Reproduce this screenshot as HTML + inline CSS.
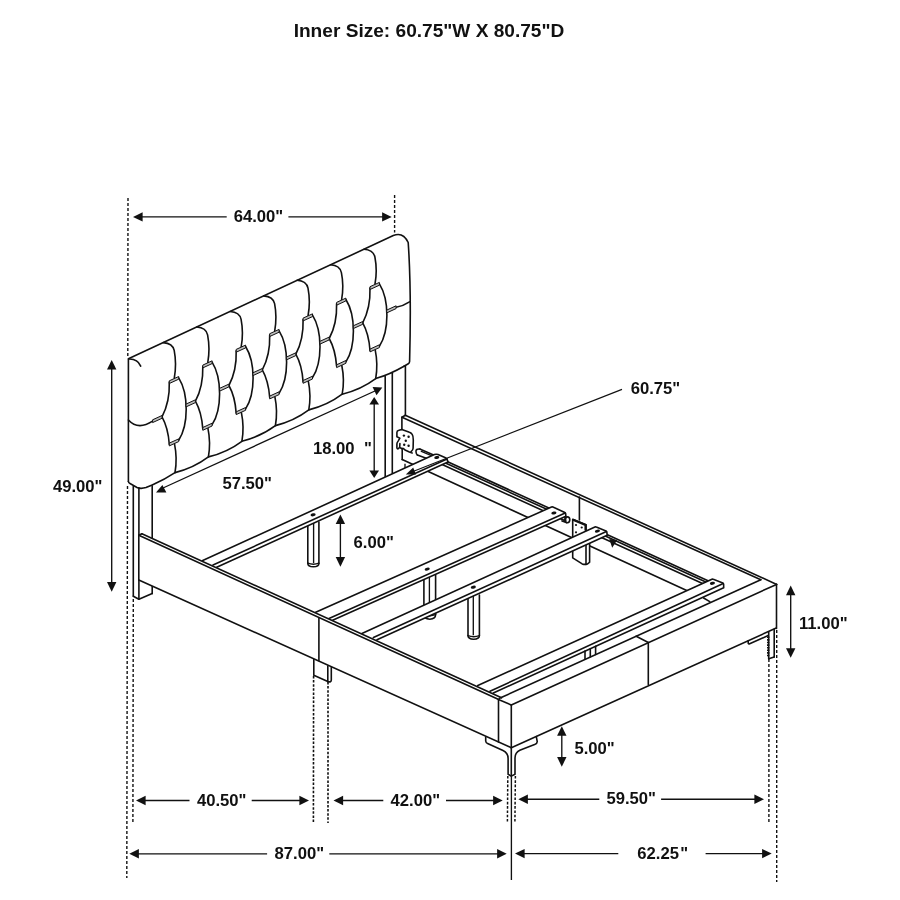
<!DOCTYPE html>
<html><head><meta charset="utf-8"><title>Bed dimensions</title>
<style>
html,body{margin:0;padding:0;background:#fff;}
svg{display:block;}
text{font-family:"Liberation Sans",sans-serif;font-weight:bold;fill:#111;}
svg{filter:grayscale(1);}
.l{stroke:#111;stroke-width:1.6;fill:none;stroke-linecap:round;stroke-linejoin:round;}
.t{stroke:#111;stroke-width:1.35;fill:none;}
.th{stroke:#111;stroke-width:1.15;fill:none;}
.d{stroke:#111;stroke-width:1.4;fill:none;stroke-dasharray:3 2;}
.a{fill:#111;stroke:none;}
.g{stroke:#111;stroke-width:1;fill:#bbb;stroke-linejoin:round;}
</style></head><body>
<svg width="900" height="900" viewBox="0 0 900 900">
<rect width="900" height="900" fill="#fff"/>
<text x="429" y="37" font-size="19.1" text-anchor="middle">Inner Size: 60.75"W X 80.75"D</text>
<g id="dims">
<path class="d" d="M128 198L127.8 357" style="stroke-dasharray:3 2"/>
<path class="d" d="M127.5 486L126.8 878" style="stroke-dasharray:3 2"/>
<path class="d" d="M394.6 195V232.5"/>
<path class="d" d="M133.3 599L132.9 823" style="stroke-dasharray:3 2"/>
<path class="d" d="M313.6 676L313.4 823" style="stroke-dasharray:2.5 1.6;stroke-width:1.6"/>
<path class="d" d="M328 682L328 823" style="stroke-dasharray:2.5 1.6;stroke-width:1.6"/>
<path class="d" d="M507.8 776L507.4 823" style="stroke-dasharray:2.6 1.7;stroke-width:1.5"/>
<path class="d" d="M515.4 776L514.9 823" style="stroke-dasharray:2.6 1.7;stroke-width:1.5"/>
<path class="d" d="M768.9 659V823"/>
<path class="d" d="M776.7 630V882"/>
<path class="t" d="M511.4 775L511.4 880"/>
<path class="a" d="M133 216.9L142.6 212.2L142.6 221.6Z"/>
<path class="a" d="M391.7 216.9L382.1 221.6L382.1 212.2Z"/>
<path class="t" d="M140 216.9L226.7 216.9"/>
<path class="t" d="M288.4 216.9L384 216.9"/>
<text x="233.7" y="221.8" font-size="16.65" text-anchor="start">64.00"</text>
<path class="a" d="M111.7 360L116.4 369.6L107 369.6Z"/>
<path class="a" d="M111.7 591.7L107 582.1L116.4 582.1Z"/>
<path class="t" d="M111.7 368L111.7 584"/>
<text x="52.9" y="492.1" font-size="16.65" text-anchor="start">49.00"</text>
<path class="a" d="M136 800.5L145.6 795.8L145.6 805.2Z"/>
<path class="a" d="M309 800.5L299.4 805.2L299.4 795.8Z"/>
<path class="t" d="M144 800.5L189.5 800.5"/>
<path class="t" d="M251.7 800.5L301 800.5"/>
<text x="196.9" y="805.8" font-size="16.65" text-anchor="start">40.50"</text>
<path class="a" d="M333.5 800.5L343.1 795.8L343.1 805.2Z"/>
<path class="a" d="M502.7 800.5L493.1 805.2L493.1 795.8Z"/>
<path class="t" d="M341 800.5L383.3 800.5"/>
<path class="t" d="M446 800.5L495 800.5"/>
<text x="390.6" y="805.8" font-size="16.65" text-anchor="start">42.00"</text>
<path class="a" d="M518.3 799.2L527.9 794.5L527.9 803.9Z"/>
<path class="a" d="M764 799.2L754.4 803.9L754.4 794.5Z"/>
<path class="t" d="M526 799.2L599.3 799.2"/>
<path class="t" d="M661.1 799.2L756 799.2"/>
<text x="606.4" y="804.2" font-size="16.65" text-anchor="start">59.50"</text>
<path class="a" d="M129.3 853.8L138.9 849.1L138.9 858.5Z"/>
<path class="a" d="M506.7 853.8L497.1 858.5L497.1 849.1Z"/>
<path class="t" d="M137 853.8L267.1 853.8"/>
<path class="t" d="M329.3 853.8L499 853.8"/>
<text x="274.6" y="859" font-size="16.65" text-anchor="start">87.00"</text>
<path class="a" d="M515 853.6L524.6 848.9L524.6 858.3Z"/>
<path class="a" d="M771.7 853.6L762.1 858.3L762.1 848.9Z"/>
<path class="t" d="M523 853.6L618.3 853.6"/>
<path class="t" d="M705.6 853.6L764 853.6"/>
<text x="637.3" y="859.4" font-size="16.65" text-anchor="start">62.25<tspan dx="1.3">"</tspan></text>
<path class="a" d="M790.7 585.6L795.4 595.2L786 595.2Z"/>
<path class="a" d="M790.7 657.8L786 648.2L795.4 648.2Z"/>
<path class="t" d="M790.7 593L790.7 650"/>
<text x="799" y="628.7" font-size="16.65" text-anchor="start">11.00"</text>
<path class="a" d="M561.8 726.2L566.5 735.8L557.1 735.8Z"/>
<path class="a" d="M561.8 766.7L557.1 757.1L566.5 757.1Z"/>
<path class="t" d="M561.8 734L561.8 759"/>
<text x="574.4" y="753.6" font-size="16.65" text-anchor="start">5.00"</text>
<path class="a" d="M340.4 514.4L345.1 524L335.7 524Z"/>
<path class="a" d="M340.4 566.7L335.7 557.1L345.1 557.1Z"/>
<path class="t" d="M340.4 522L340.4 559"/>
<text x="353.5" y="547.9" font-size="16.65" text-anchor="start">6.00"</text>
<path class="a" d="M374.2 397L379 404.5L369.4 404.5Z"/>
<path class="a" d="M374.2 478L369.4 470.5L379 470.5Z"/>
<path class="t" d="M374.2 403L374.2 472"/>
<text x="312.9" y="454" font-size="16.65" text-anchor="start">18.00</text>
<text x="364.1" y="454" font-size="16.65" text-anchor="start">"</text>
<text x="222.4" y="488.6" font-size="16.65" text-anchor="start">57.50"</text>
<path class="t" d="M163 488L376 390.5"/>
<path class="a" d="M156 492.6L162.4 485L166.4 492.6Z"/>
<path class="a" d="M372.6 387.1L382.3 387.5L376.5 395.2Z"/>
<text x="630.7" y="394.2" font-size="16.65" text-anchor="start">60.75"</text>
</g>
<g id="headboard">
<path class="l" d="M128.4 481.5 L128.4 358.8 L393.3 235.6 Q403 231.5 408.2 242.5 Q411.5 290 409.6 361.5 Q409.5 363 408.3 363.7 L404 366.3"/>
<path class="l" d="M128.4 481.5 Q128.5 482.7 130 483.5 L137 487.5 Q140.5 489.2 146 487.6 L152.2 485 Q165 479.3 175 472.6 Q193.7 468 208.4 456.9 Q227.2 452.3 241.9 441.3 Q260.6 436.6 275.4 425.6 Q294.1 421 308.8 409.9 Q327.5 405.3 342.2 394.2 Q361 389.6 375.7 378.6 Q389.7 374.6 404 366.3"/>
<path class="l" d="M128.6 359.1 Q137.5 358.6 140.7 366.1"/>
<path class="l" d="M163.3 342.6 C167.3 342.9 173 344.9 174.2 350.4 Q176.8 364.1 174.3 378"/>
<path class="l" d="M178.7 377.9 C188.7 393.9 188.7 424.9 178.7 440.2"/>
<path class="l" d="M169.3 382.1 Q169.9 402.1 162 416.9"/>
<path class="l" d="M162 416.9 Q168.2 427.9 169.3 444.5"/>
<path class="l" d="M174.5 443.9 Q177.5 458.4 175 472.6"/>
<path class="l" d="M196.8 327 C200.8 327.3 206.4 329.3 207.6 334.8 Q210.2 348.5 207.8 362.3"/>
<path class="l" d="M212.1 362.2 C222.1 378.2 222.1 409.2 212.1 424.6"/>
<path class="l" d="M202.8 366.5 Q203.3 386.5 195.4 401.2"/>
<path class="l" d="M195.4 401.2 Q201.6 412.2 202.8 428.9"/>
<path class="l" d="M207.9 428.2 Q210.9 442.7 208.4 456.9"/>
<path class="l" d="M230.2 311.5 C234.2 311.8 239.9 313.8 241.1 319.3 Q243.7 332.9 241.2 346.7"/>
<path class="l" d="M245.6 346.5 C255.6 362.5 255.6 393.5 245.6 408.9"/>
<path class="l" d="M236.2 350.8 Q236.8 370.8 228.9 385.5"/>
<path class="l" d="M228.9 385.5 Q235.1 396.5 236.2 413.2"/>
<path class="l" d="M241.4 412.6 Q244.4 427.1 241.9 441.3"/>
<path class="l" d="M263.7 295.9 C267.7 296.2 273.4 298.2 274.6 303.7 Q277.2 317.2 274.7 331"/>
<path class="l" d="M279.1 330.8 C289.1 346.8 289.1 377.8 279.1 393.2"/>
<path class="l" d="M269.7 335.1 Q270.3 355.1 262.3 369.9"/>
<path class="l" d="M262.3 369.9 Q268.5 380.9 269.7 397.5"/>
<path class="l" d="M274.9 396.9 Q277.9 411.4 275.4 425.6"/>
<path class="l" d="M297.1 280.3 C301.1 280.6 306.8 282.6 308 288.1 Q310.6 301.6 308.1 315.3"/>
<path class="l" d="M312.5 315.2 C322.5 331.2 322.5 362.2 312.5 377.6"/>
<path class="l" d="M303.1 319.5 Q303.7 339.5 295.8 354.2"/>
<path class="l" d="M295.8 354.2 Q302 365.2 303.1 381.9"/>
<path class="l" d="M308.3 381.2 Q311.3 395.7 308.8 409.9"/>
<path class="l" d="M330.6 264.8 C334.6 265.1 340.2 267.1 341.4 272.6 Q344.1 286 341.6 299.6"/>
<path class="l" d="M345.9 299.5 C355.9 315.5 355.9 346.5 345.9 361.9"/>
<path class="l" d="M336.6 303.8 Q337.2 323.8 329.2 338.5"/>
<path class="l" d="M329.2 338.5 Q335.4 349.5 336.6 366.2"/>
<path class="l" d="M341.8 365.5 Q344.8 380 342.2 394.2"/>
<path class="l" d="M364 249.2 C368 249.5 373.7 251.5 374.9 257 Q377.5 270.4 375 284"/>
<path class="l" d="M379.4 283.8 C389.4 299.8 389.4 330.8 379.4 346.2"/>
<path class="l" d="M370 288.1 Q370.6 308.1 362.7 322.9"/>
<path class="l" d="M362.7 322.9 Q368.9 333.9 370 350.5"/>
<path class="l" d="M375.2 349.9 Q378.2 364.4 375.7 378.6"/>
<path class="l" d="M128.4 420 Q138 430.5 152.6 421.2"/>
<path class="l" d="M396.1 307.2 Q403.1 306 409.5 301.8"/>
<path class="g" d="M169.3 380.8L178.7 376.5L178.7 379.2L169.3 383.5Z"/>
<path class="g" d="M169.3 443.1L178.7 438.9L178.7 441.6L169.3 445.9Z"/>
<path class="g" d="M202.8 365.1L212.1 360.8L212.1 363.6L202.8 367.9Z"/>
<path class="g" d="M202.8 427.5L212.1 423.2L212.1 426L202.8 430.3Z"/>
<path class="g" d="M236.2 349.4L245.6 345.1L245.6 347.9L236.2 352.2Z"/>
<path class="g" d="M236.2 411.8L245.6 407.5L245.6 410.3L236.2 414.6Z"/>
<path class="g" d="M269.7 333.7L279.1 329.4L279.1 332.2L269.7 336.5Z"/>
<path class="g" d="M269.7 396.1L279.1 391.8L279.1 394.6L269.7 398.9Z"/>
<path class="g" d="M303.1 318.1L312.5 313.8L312.5 316.6L303.1 320.9Z"/>
<path class="g" d="M303.1 380.5L312.5 376.2L312.5 379L303.1 383.3Z"/>
<path class="g" d="M336.6 302.4L345.9 298.1L345.9 300.9L336.6 305.2Z"/>
<path class="g" d="M336.6 364.8L345.9 360.5L345.9 363.3L336.6 367.6Z"/>
<path class="g" d="M370 286.7L379.4 282.4L379.4 285.2L370 289.5Z"/>
<path class="g" d="M370 349.1L379.4 344.8L379.4 347.6L370 351.9Z"/>
<path class="g" d="M152.6 419.8L162 415.5L162 418.3L152.6 422.6Z"/>
<path class="g" d="M186 404.1L195.4 399.8L195.4 402.6L186 406.9Z"/>
<path class="g" d="M219.5 388.4L228.9 384.1L228.9 386.9L219.5 391.2Z"/>
<path class="g" d="M252.9 372.8L262.3 368.5L262.3 371.3L252.9 375.6Z"/>
<path class="g" d="M286.4 357.1L295.8 352.8L295.8 355.6L286.4 359.9Z"/>
<path class="g" d="M319.8 341.4L329.2 337.1L329.2 339.9L319.8 344.2Z"/>
<path class="g" d="M353.3 325.8L362.7 321.5L362.7 324.3L353.3 328.6Z"/>
<path class="g" d="M386.7 310.1L396.1 305.8L396.1 308.6L386.7 312.9Z"/>
<path class="l" d="M133.3 486.5L133.3 596.2"/>
<path class="l" d="M138.9 487.8L138.9 599.3"/>
<path class="l" d="M152.2 485.8L152.2 538"/>
<path class="l" d="M152.2 586.5L152.2 593.6"/>
<path class="l" d="M133.3 596.2L138.9 599.3L152.2 593.6"/>
<path class="l" d="M385.2 376.3L385.2 476.7"/>
<path class="l" d="M392.3 373.3L392.3 473.3"/>
<path class="l" d="M405.4 365.8L405.4 415.5"/>
</g>
<g id="bed">
<path class="l" d="M405.3 415.3L776.7 584.4"/>
<path class="l" d="M402 417.3L760.8 579.7"/>
<path class="l" d="M402 417.3L405.3 415.3"/>
<path class="l" d="M401.9 417.3L401.9 429.4"/>
<path class="l" d="M402.2 449.2L402.2 459.6"/>
<path class="l" d="M579.4 497L579.4 520"/>
<path class="l" d="M402.2 459.6L690 592"/>
<path class="t" d="M405 463.7L405 468.2"/>
<path class="l" d="M401.9 429.4 L398.9 430.3 Q396.9 430.8 396.9 432.6 L396.9 436.7 L399.9 438.1 L398.1 441.1 Q396.9 442.8 396.9 444 L396.9 447.8 Q397 449 398.2 448.8 L399.7 447.3 L399.9 443.6 M399.7 447.3 L401.2 448.3 L403.5 448.6 L405 450 L409.4 451.9 L412.2 453 M411.1 451.7 Q413 450 413.1 448.3 L413.3 440 Q413.3 436 412.2 434.4 Q411 432.6 409.4 432.2 L401.9 429.4"/>
<ellipse class="a" cx="403.9" cy="435.6" rx="1.2" ry="1.2" transform="rotate(0 403.9 435.6)"/>
<ellipse class="a" cx="408.6" cy="436.7" rx="1.2" ry="1.2" transform="rotate(0 408.6 436.7)"/>
<ellipse class="a" cx="405.8" cy="440.8" rx="1.2" ry="1.2" transform="rotate(0 405.8 440.8)"/>
<ellipse class="a" cx="404.2" cy="444.7" rx="1.2" ry="1.2" transform="rotate(0 404.2 444.7)"/>
<ellipse class="a" cx="408.6" cy="445.8" rx="1.2" ry="1.2" transform="rotate(0 408.6 445.8)"/>
<path class="l" d="M440 458.3L564 514.9"/>
<path class="l" d="M596 529.6L708 580.7"/>
<path class="l" d="M440 460.5L564 517.1"/>
<path class="l" d="M596 531.8L708 582.9"/>
<path class="l" d="M440 463.6L564 520.2"/>
<path class="l" d="M596 534.9L708 586"/>
<path class="l" d="M419.8 449L437 456.6"/>
<path class="t" d="M420.8 451.2L432 455.9"/>
<path class="l" d="M417.4 455.1L431 460"/>
<path class="l" d="M419.8 449 Q415.6 448.6 416 451.8 Q416.2 454.4 417.4 455.1"/>
<path class="l" d="M562 520.9L566.5 522.6"/>
<ellipse class="l" cx="567.3" cy="519.8" rx="2.5" ry="2.9" style="fill:#fff"/>
<path class="t" d="M566.2 518 Q565 519.8 566.2 521.6"/>
<path class="l" d="M572.7 537.5L572.7 519.3L586 524.7L586 531" style="fill:#fff"/>
<path d="M573 519.8L585.6 525V530.5" stroke="#111" stroke-width="2.3" fill="none" stroke-linejoin="miter"/>
<ellipse class="a" cx="576" cy="525" rx="1.1" ry="1.1" transform="rotate(0 576 525)"/>
<ellipse class="a" cx="581.7" cy="527.5" rx="1.1" ry="1.1" transform="rotate(0 581.7 527.5)"/>
<ellipse class="a" cx="576" cy="532.3" rx="1.1" ry="1.1" transform="rotate(0 576 532.3)"/>
<path class="l" d="M572.7 545 L572.7 557.8 L582.2 563.9 Q586.7 565.5 589.6 562.2 L589.6 540" style="fill:#fff"/>
<path class="l" d="M586 542L586 564.6"/>
<path d="M307.8 522L318.9 522L318.9 563.2L307.8 563.2Z" fill="#fff" stroke="none"/>
<path class="l" d="M307.8 522L307.8 563.2"/>
<path class="t" d="M313.6 522L313.6 563.2"/>
<path class="l" d="M318.9 522L318.9 563.2"/>
<path class="l" d="M307.8 563.2 Q307.8 566.8 313.4 566.8 Q318.9 566.8 318.9 563.2" style="fill:#fff"/>
<path class="t" d="M307.8 563.2 Q313.4 565.4 318.9 563.2"/>
<path d="M202.7 560.6L436.2 453.8L447.3 458.6L448 461.9L216.7 567.3Z" fill="#fff" stroke="none"/>
<path class="l" d="M202.7 560.6 L434.4 454.6 Q436.2 453.8 438 454.6 L445.5 457.8 Q447.3 458.6 447.4 460.4 L448 461.9 L216.7 567.3"/>
<path class="l" d="M213 565.1L447 458.9"/>
<ellipse class="a" cx="436.8" cy="457.5" rx="2.6" ry="1.5" transform="rotate(-12 436.8 457.5)"/>
<ellipse class="a" cx="313.1" cy="514.8" rx="2.6" ry="1.5" transform="rotate(-12 313.1 514.8)"/>
<path d="M423.9 575L435.6 575L435.6 614.6L423.9 614.6Z" fill="#fff" stroke="none"/>
<path class="l" d="M423.9 575L423.9 614.6"/>
<path class="t" d="M429.4 575L429.4 614.6"/>
<path class="l" d="M435.6 575L435.6 614.6"/>
<path class="l" d="M423.9 614.6 Q423.9 619.2 429.8 619.2 Q435.6 619.2 435.6 614.6" style="fill:#fff"/>
<path class="t" d="M423.9 614.6 Q429.8 616.8 435.6 614.6"/>
<path d="M315.7 612.2L552.2 506.7L565.5 512.7L565.9 516.2L332.6 620.2Z" fill="#fff" stroke="none"/>
<path class="l" d="M315.7 612.2 L551.5 507 Q552.2 506.7 552.9 507 L564.8 512.4 Q565.5 512.7 565.6 513.4 L565.9 516.2 L332.6 620.2"/>
<path class="l" d="M329 618.4L565.2 513"/>
<ellipse class="a" cx="553.9" cy="513" rx="2.6" ry="1.5" transform="rotate(-12 553.9 513)"/>
<ellipse class="a" cx="427.2" cy="569.1" rx="2.6" ry="1.5" transform="rotate(-12 427.2 569.1)"/>
<path d="M468 595L479.4 595L479.4 635.6L468 635.6Z" fill="#fff" stroke="none"/>
<path class="l" d="M468 595L468 635.6"/>
<path class="t" d="M473.3 595L473.3 635.6"/>
<path class="l" d="M479.4 595L479.4 635.6"/>
<path class="l" d="M468 635.6 Q468 639.2 473.7 639.2 Q479.4 639.2 479.4 635.6" style="fill:#fff"/>
<path class="t" d="M468 635.6 Q473.7 637.8 479.4 635.6"/>
<path d="M361.9 633.6L595.6 526.7L606.7 531.2L607.2 535.2L377 639.8Z" fill="#fff" stroke="none"/>
<path class="l" d="M361.9 633.6 L594.9 527 Q595.6 526.7 596.3 527 L606 530.9 Q606.7 531.2 606.8 531.9 L607.2 535.2 L377 639.8"/>
<path class="l" d="M373.4 637.6L606.4 531.5"/>
<ellipse class="a" cx="597.4" cy="531.1" rx="2.6" ry="1.5" transform="rotate(-12 597.4 531.1)"/>
<ellipse class="a" cx="473.3" cy="587.2" rx="2.6" ry="1.5" transform="rotate(-12 473.3 587.2)"/>
<path d="M477.8 685.6L712.6 579L723.5 583.3L723.7 587.7L493.3 693.1Z" fill="#fff" stroke="none"/>
<path class="l" d="M477.8 685.6 L711.9 579.3 Q712.6 579 713.3 579.3 L722.8 583 Q723.5 583.3 723.6 584 L723.7 587.7 L493.3 693.1"/>
<path class="l" d="M490 691.3L723.2 583.6"/>
<ellipse class="a" cx="712.4" cy="583.3" rx="2.6" ry="1.5" transform="rotate(-12 712.4 583.3)"/>
<path d="M138.8 535.3L141.9 533.8L501.5 697.8L511.3 705L511.3 747.7L138.8 580Z" fill="#fff" stroke="none"/>
<path class="l" d="M138.8 535.3L498.7 699.6"/>
<path class="l" d="M141.9 533.8L501.5 697.8"/>
<path class="l" d="M138.8 535.3L141.9 533.8"/>
<path class="l" d="M138.8 535.3L138.8 580"/>
<path class="l" d="M138.8 580L511.3 747.7"/>
<path class="l" d="M318.9 618.3L318.9 660.6"/>
<path class="l" d="M313.8 659.5L313.8 675.3L327.8 681.6L327.8 666"/>
<path class="l" d="M327.8 681.6 Q331.3 682.5 331.3 680 L331.3 667.5"/>
<path class="l" d="M498.5 699.6L498.5 742"/>
<path class="l" d="M511.3 704.9L511.3 747.6"/>
<path class="l" d="M498.5 699.6L511.3 704.9"/>
<path class="l" d="M511.3 704.9L776.5 584.4"/>
<path class="l" d="M499.5 698.3L760.8 579.7"/>
<path class="l" d="M511.3 747.7L776.2 628"/>
<path class="l" d="M776.5 584.4L776.5 628.4"/>
<path class="l" d="M648.3 642.5L648.3 684.4"/>
<path class="l" d="M636.2 636.2L648.3 642.5"/>
<path class="l" d="M703.6 598L709.8 601.6"/>
<path class="l" d="M585 651L585 659.3"/>
<path class="l" d="M590.3 648.7L590.3 656.8"/>
<path class="l" d="M595.6 646.3L595.6 654.4"/>
<path class="l" d="M485.7 737 L485.7 741 Q485.9 742.8 487.6 743.5 L503 750.6 Q508.1 753 508.1 758.5 L508.1 774.3 L511.3 776.1 L515 774.3 L515 758 Q515 752.5 519.8 750.2 L534.6 744.6 Q537.4 743.4 537.2 741.4 L536.3 736.6"/>
<path class="l" d="M511.3 747.6L511.3 776"/>
<path class="l" d="M768.2 635.6L749.1 644L748.2 643.3L748.2 640.8"/>
<path class="l" d="M768.7 632L768.7 658.7"/>
<path class="l" d="M774.2 629.3L774.2 656.9"/>
<path class="l" d="M768.7 658.7L774.2 656.9"/>
<path d="M768.2 636.5V657" stroke="#111" stroke-width="2.4" stroke-dasharray="1.6 1" fill="none"/>
</g>
<g id="leader">
<path class="th" d="M622 389.4L413 471.5"/>
<path class="a" d="M405.8 474.4L413.2 467.4L416 474.5Z"/>
<path class="a" d="M612.2 547.8L609.3 539.1L617.2 540.1Z"/>
</g>
</svg>
</body></html>
